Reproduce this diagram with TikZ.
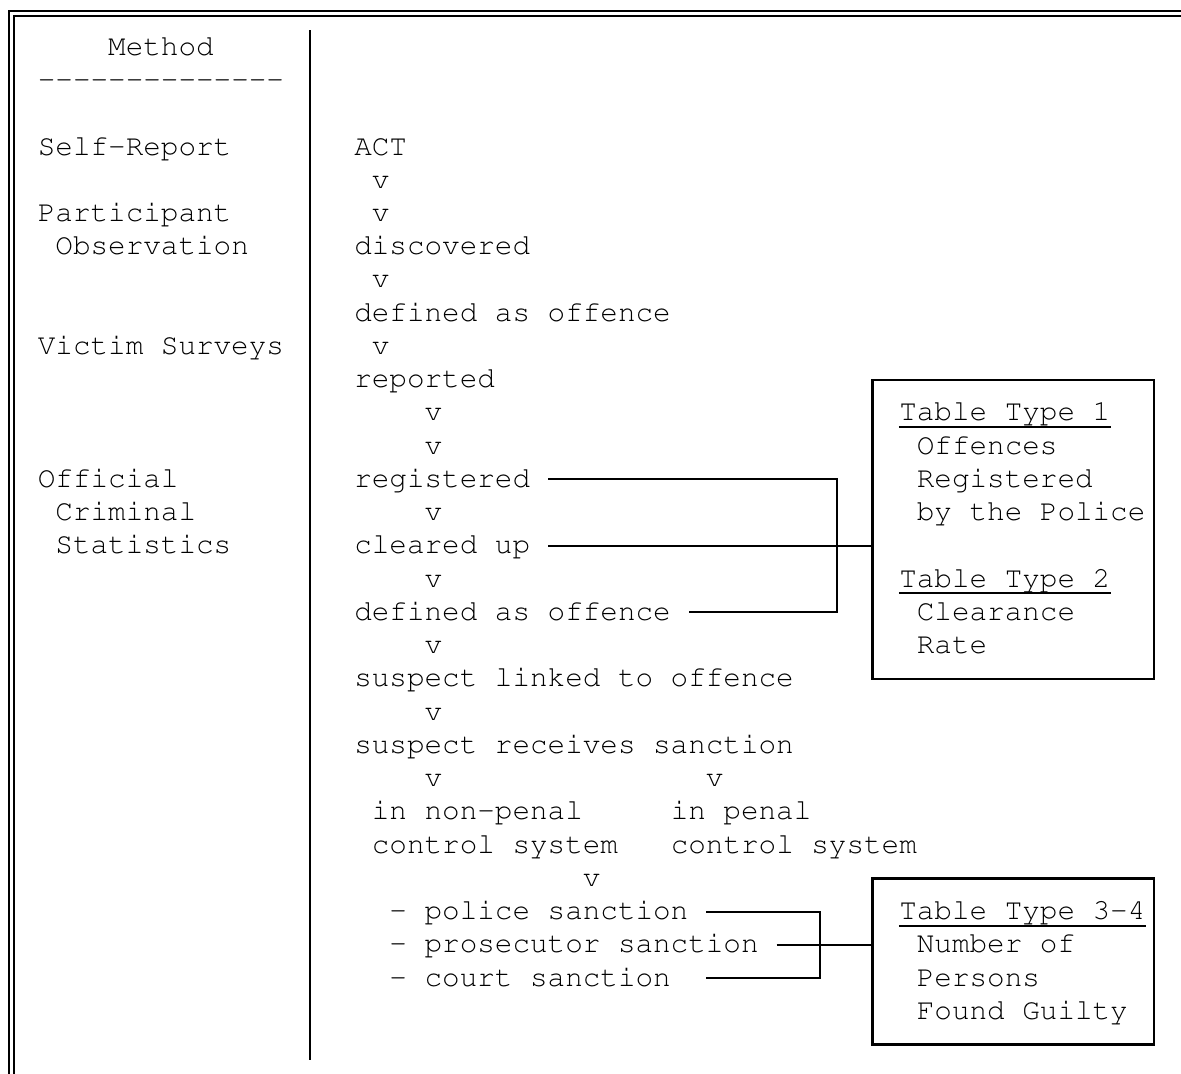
\documentclass[tikz,border=0pt]{standalone}
\usepackage[T1]{fontenc}
\newcommand\ttcour{\fontencoding{T1}\fontfamily{pcr}\selectfont}
\def\colw{8.79pt}
\def\rowh{16.62pt}

\begin{document}
\begin{tikzpicture}[x=\colw, y=-\rowh,
    txt/.style={anchor=base west, inner sep=0pt, text height=8pt, text depth=0pt,
      font=\ttcour\fontsize{14.65pt}{16pt}\selectfont},
    link/.style={line width=1pt},
    tabbox/.style={draw, line width=1.2pt, inner sep=0pt, minimum width={16*\colw}}]
    \useasboundingbox (-2.133,-1.664) rectangle (65.046,30.646);

    \draw[line width=1pt, double, double distance=1.5pt] (-1.479,31) |- (65.5,-1.265);
    \draw[line width=1.2pt] (15.5,-0.76) -- (15.5,30.24);

    \node[txt] (meth) at (4,0) {Method};
    \node[txt] (dash) at (0,1) {-{}-{}-{}-{}-{}-{}-{}-{}-{}-{}-{}-{}-{}-};
    \node[txt] (self) at (0,3) {Self-Report};
    \node[txt] (part) at (0,5) {Participant};
    \node[txt] (obs) at (1,6) {Observation};
    \node[txt] (vict) at (0,9) {Victim Surveys};
    \node[txt] (off) at (0,13) {Official};
    \node[txt] (crim) at (1,14) {Criminal};
    \node[txt] (stat) at (1,15) {Statistics};

    \node[txt] (act) at (18,3) {ACT};
    \node[txt] (disc) at (18,6) {discovered};
    \node[txt] (def1) at (18,8) {defined as offence};
    \node[txt] (rep) at (18,10) {reported};
    \node[txt] (reg) at (18,13) {registered};
    \node[txt] (clr) at (18,15) {cleared up};
    \node[txt] (def2) at (18,17) {defined as offence};
    \node[txt] (susp) at (18,19) {suspect linked to offence};
    \node[txt] (sanc) at (18,21) {suspect receives sanction};
    \node[txt] (np1) at (19,23) {in non-penal};
    \node[txt] (np2) at (19,24) {control system};
    \node[txt] (pen1) at (36,23) {in penal};
    \node[txt] (pen2) at (36,24) {control system};
    \node[txt] (pol) at (20,26) {- police sanction};
    \node[txt] (pros) at (20,27) {- prosecutor sanction};
    \node[txt] (court) at (20,28) {- court sanction};
    \foreach \c/\r [count=\i] in {19/4,19/5,19/7,19/9,22/11,22/12,22/14,22/16,22/18,22/20,22/22,38/22,31/25}
      \node[txt] (v\i) at (\c,\r) {v};

    \node[tabbox, minimum height={9*\rowh}] (tab1) at (55.5,14.26) {};
    \node[tabbox, minimum height={5*\rowh}] (tab3) at (55.5,27.26) {};

    \node[txt] (tt1) at (49,11) {Table Type 1};
    \node[txt] (offreg) at (50,12) {Offences};
    \node[txt] (regd) at (50,13) {Registered};
    \node[txt] (police) at (50,14) {by the Police};
    \node[txt] (tt2) at (49,16) {Table Type 2};
    \node[txt] (clear) at (50,17) {Clearance};
    \node[txt] (rate) at (50,18) {Rate};
    \node[txt] (tt3) at (49,26) {Table Type 3-4};
    \node[txt] (numb) at (50,27) {Number of};
    \node[txt] (pers) at (50,28) {Persons};
    \node[txt] (guilty) at (50,29) {Found Guilty};

    \draw[link] ([yshift=-3pt]tt1.base west) -- ([yshift=-3pt]tt1.base east);
    \draw[link] ([yshift=-3pt]tt2.base west) -- ([yshift=-3pt]tt2.base east);
    \draw[link] ([yshift=-3pt]tt3.base west) -- ([yshift=-3pt]tt3.base east);

    \coordinate (br1) at (45.5,13);
    \coordinate (br2) at (44.5,26);
    \draw[link] ([xshift=\colw]reg.east) -| (br1 |- def2.east) -- ([xshift=\colw]def2.east);
    \draw[link] ([xshift=\colw]clr.east) -- (tab1.west |- clr.east);
    \draw[link] ([xshift=\colw]pol.east) coordinate (pstart) -| (br2 |- court.east) -- (pstart |- court.east);
    \draw[link] ([xshift=\colw]pros.east) -- (tab3.west |- pros.east);
\end{tikzpicture}
\end{document}
